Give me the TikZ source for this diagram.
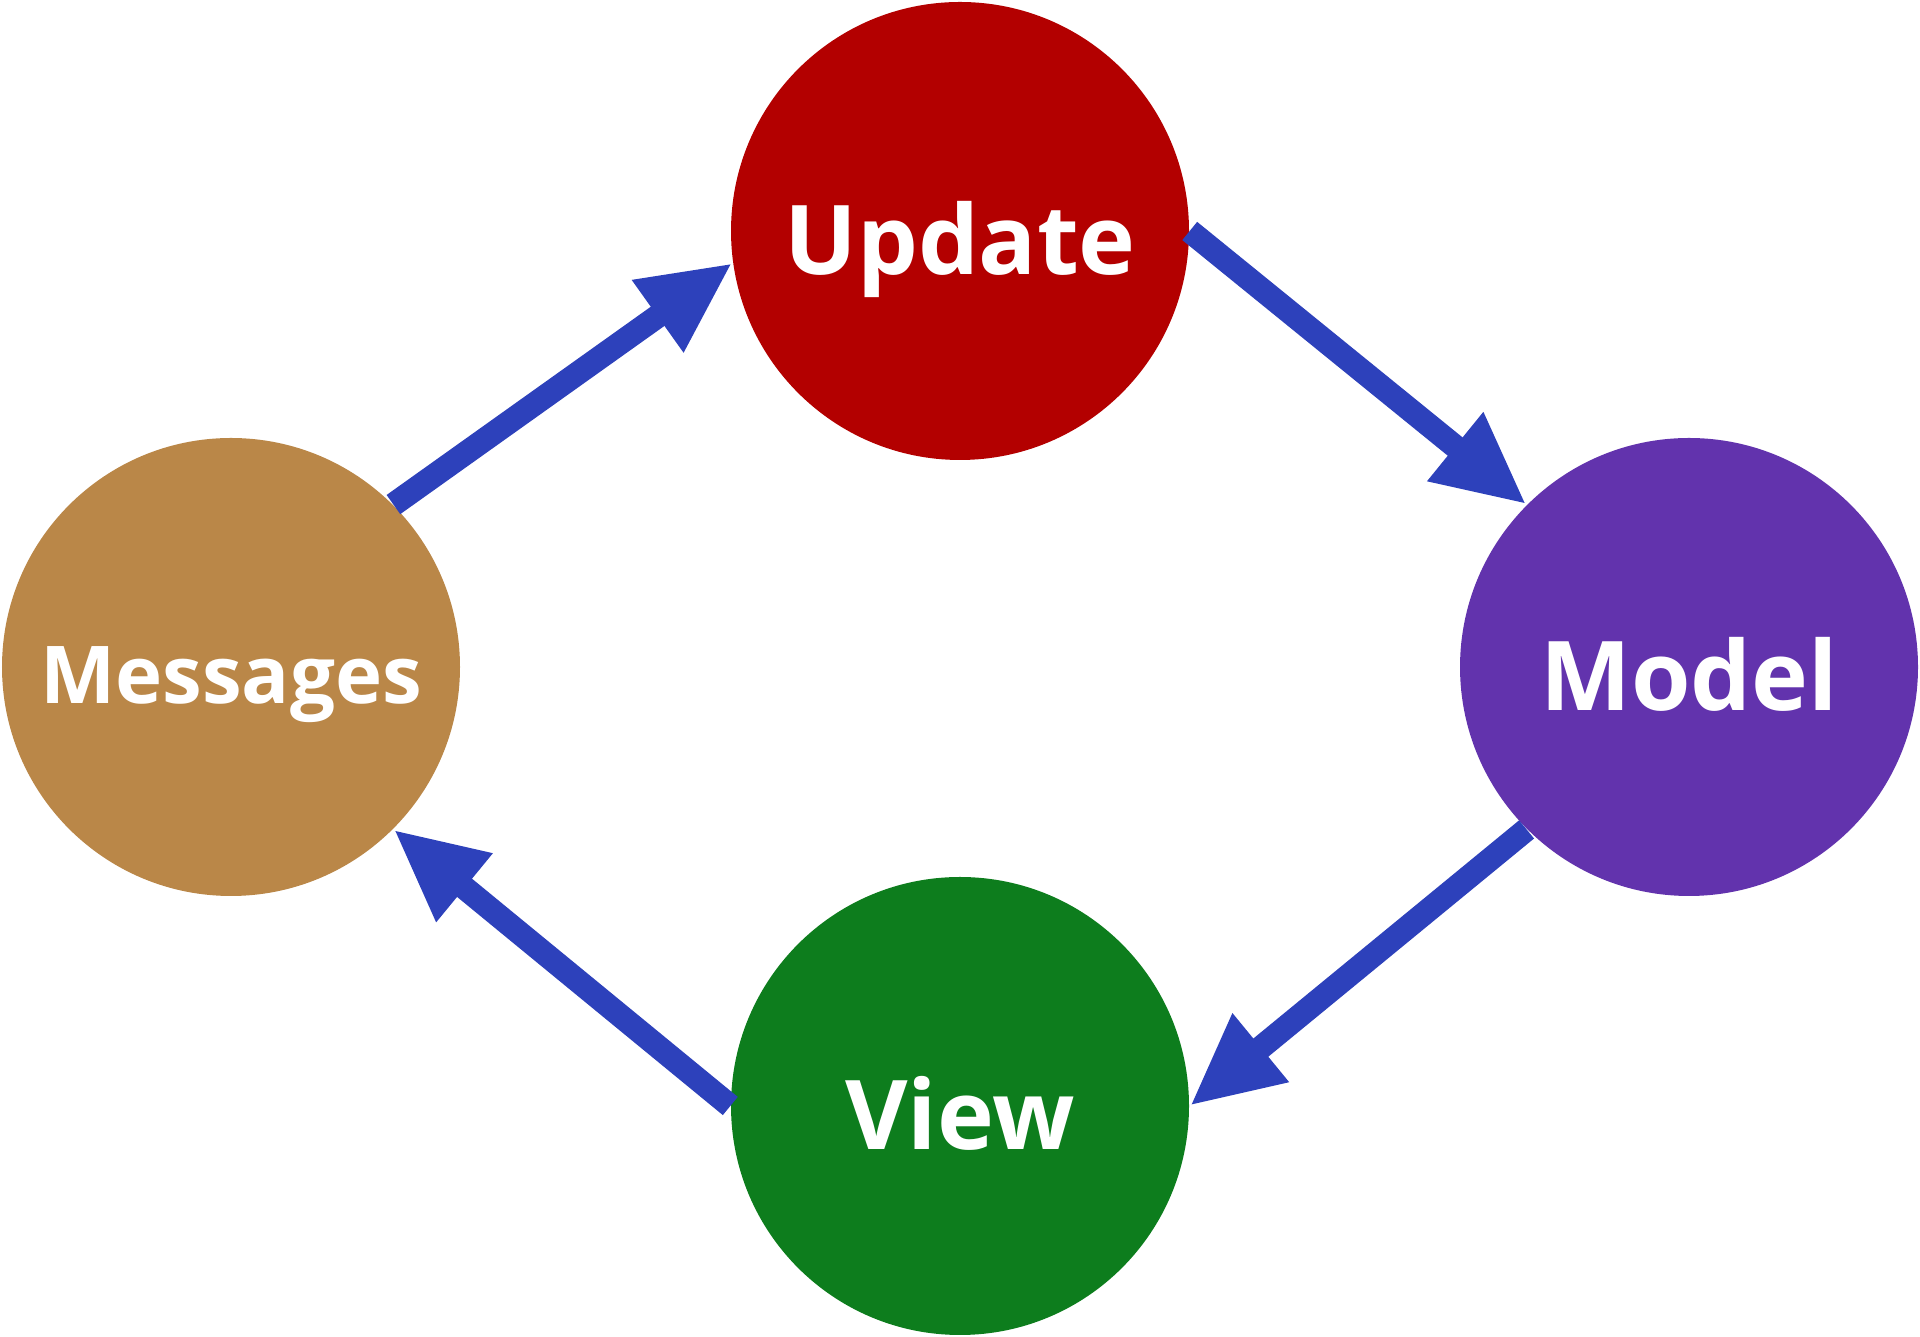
\documentclass[tikz,border=0pt]{standalone}
\usepackage{fontspec}
\setmainfont{Open Sans}
\usetikzlibrary{arrows.meta}
\definecolor{updred}{RGB}{179,0,0}
\definecolor{modpurple}{RGB}{98,51,173}
\definecolor{msgtan}{RGB}{186,135,72}
\definecolor{viewgreen}{RGB}{13,125,29}
\definecolor{flowblue}{RGB}{45,65,187}
\begin{document}
\begin{tikzpicture}[font=\bfseries\fontsize{27.4}{30}\selectfont, line join=miter,
		stage/.style={circle, minimum size=4.58cm, inner sep=0pt, text=white, text height=0.88cm, text depth=0pt},
		flow/.style={draw=flowblue, line width=6.7pt, -{Triangle[length=0.92cm,width=0.82cm]}}]
		\useasboundingbox (0,0) rectangle (19.2,13.37);
		\node[stage, fill=updred] (update) at (9.6,11.06) {Update};
		\node[stage, fill=modpurple] (model) at (16.89,6.7) {Model};
		\node[stage, fill=viewgreen] (view) at (9.6,2.31) {View};
		\node[stage, fill=msgtan, text height=0.74cm, font=\bfseries\fontsize{22.7}{25}\selectfont] (messages) at (2.31,6.7) {Messages};
		\draw[flow] (messages.45) -- (update.188);
		\draw[flow] (update.east) -- (model.135);
		\draw[flow] (model.225) -- (view.east);
		\draw[flow] (view.west) -- (messages.-45);
\end{tikzpicture}
\end{document}
